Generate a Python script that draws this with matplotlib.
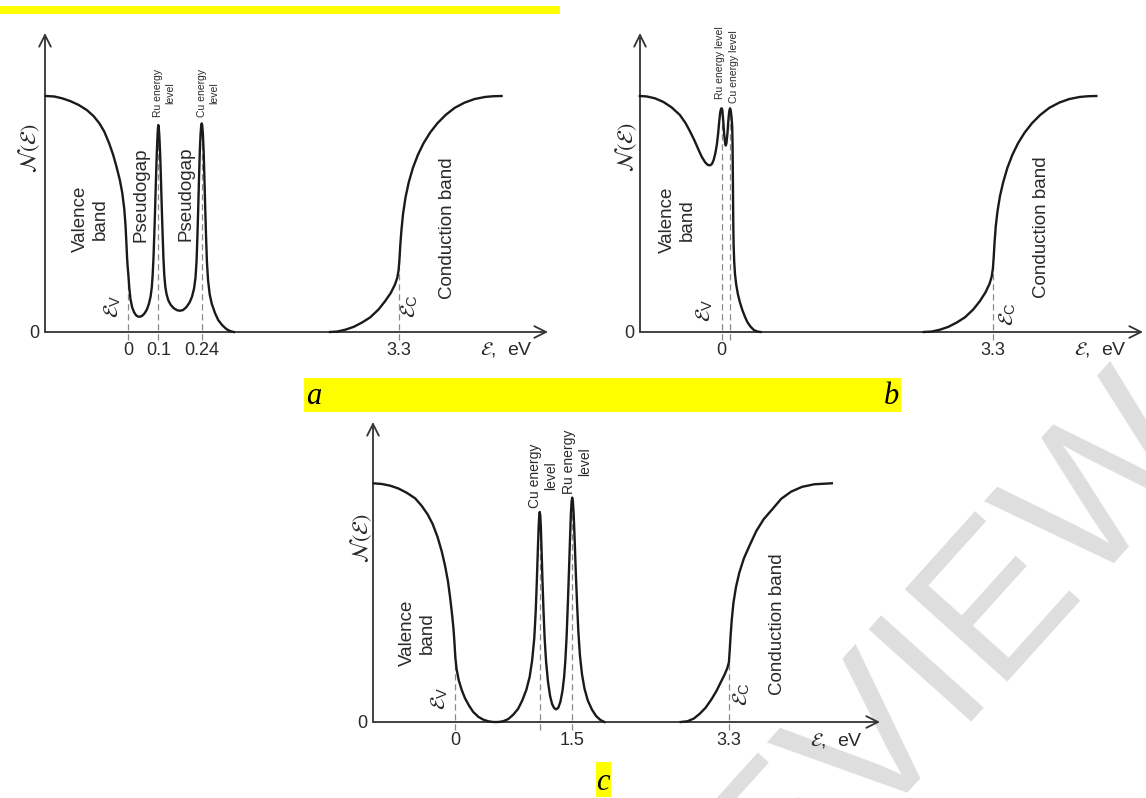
import matplotlib
matplotlib.use('Agg')
import matplotlib.pyplot as plt
from matplotlib.patches import Rectangle

plt.rcParams['font.family'] = ['Liberation Sans', 'DejaVu Sans']
plt.rcParams['mathtext.fontset'] = 'stix'

W, H = 1146, 798

# panel a: density of states, valence band + Ru/Cu levels inside the gap
a_val_x = [-1.0, -0.9, -0.8, -0.7, -0.6, -0.5, -0.42, -0.35, -0.29, -0.23, -0.18, -0.14, -0.10,
           -0.07, -0.045, -0.03, -0.02, -0.012, -0.005, 0.005, 0.015, 0.03, 0.05, 0.075, 0.1,
           0.125, 0.146, 0.17, 0.2, 0.23, 0.255, 0.275, 0.29, 0.30, 0.31, 0.32, 0.33, 0.34,
           0.35, 0.358, 0.364, 0.369, 0.375, 0.382, 0.392, 0.402, 0.412, 0.422, 0.432, 0.442,
           0.455, 0.47, 0.49, 0.52, 0.56, 0.6, 0.633, 0.67, 0.71, 0.75, 0.78, 0.805, 0.822,
           0.835, 0.845, 0.855, 0.865, 0.875, 0.884, 0.892, 0.898, 0.904, 0.912, 0.921, 0.931,
           0.941, 0.951, 0.961, 0.975, 0.995, 1.02, 1.06, 1.1, 1.15, 1.2, 1.25, 1.29]
a_val_y = [1.0, 0.998, 0.99, 0.978, 0.962, 0.94, 0.915, 0.885, 0.85, 0.80, 0.75, 0.70, 0.645,
           0.59, 0.52, 0.45, 0.38, 0.32, 0.28, 0.24, 0.19, 0.14, 0.105, 0.083, 0.07,
           0.065, 0.065, 0.068, 0.078, 0.095, 0.12, 0.15, 0.19, 0.24, 0.31, 0.41, 0.52, 0.64,
           0.75, 0.82, 0.86, 0.877, 0.865, 0.83, 0.75, 0.64, 0.52, 0.41, 0.31, 0.24,
           0.19, 0.16, 0.135, 0.115, 0.10, 0.092, 0.09, 0.093, 0.105, 0.125, 0.15, 0.185, 0.23,
           0.30, 0.40, 0.52, 0.65, 0.77, 0.84, 0.875, 0.884, 0.875, 0.84, 0.77, 0.65,
           0.52, 0.40, 0.30, 0.22, 0.16, 0.12, 0.08, 0.05, 0.028, 0.012, 0.003, 0.0]
a_cond_x = [2.46, 2.55, 2.65, 2.75, 2.85, 2.95, 3.05, 3.13, 3.2, 3.25, 3.28, 3.295, 3.305,
            3.315, 3.33, 3.35, 3.38, 3.42, 3.47, 3.53, 3.6, 3.68, 3.77, 3.87, 3.98, 4.1,
            4.22, 4.35, 4.45, 4.55]
a_cond_y = [0.0, 0.002, 0.01, 0.022, 0.04, 0.062, 0.095, 0.13, 0.165, 0.2, 0.23, 0.26, 0.30,
            0.36, 0.43, 0.50, 0.57, 0.635, 0.695, 0.75, 0.80, 0.845, 0.885, 0.92, 0.95, 0.972,
            0.987, 0.996, 0.999, 1.0]
a_ticks = [0, 0.37, 0.90, 3.3]
a_tick_labels = ['0', '0.1', '0.24', '3.3']
a_levels = [0, 0.369, 0.898, 3.3]
a_level_tops = [0.26, 0.877, 0.884, 0.27]

# panel b: both levels merged into the valence band edge
b_val_x = [-0.985, -0.9, -0.8, -0.7, -0.6, -0.5, -0.43, -0.376, -0.32, -0.27, -0.23, -0.19,
           -0.16, -0.133, -0.11, -0.09, -0.07, -0.05, -0.035, -0.022, -0.01, 0.0, 0.008,
           0.016, 0.026, 0.038, 0.05, 0.058, 0.066, 0.078, 0.09, 0.1, 0.109, 0.118, 0.128,
           0.136, 0.14, 0.143, 0.146, 0.149, 0.153, 0.16, 0.17, 0.185, 0.205, 0.23, 0.26,
           0.29, 0.32, 0.36, 0.4, 0.44, 0.48]
b_val_y = [1.0, 0.998, 0.99, 0.975, 0.952, 0.92, 0.885, 0.85, 0.81, 0.77, 0.74, 0.718,
           0.708, 0.706, 0.712, 0.728, 0.755, 0.795, 0.84, 0.89, 0.93, 0.945, 0.948,
           0.94, 0.90, 0.84, 0.80, 0.79, 0.80, 0.84, 0.90, 0.935, 0.948, 0.94, 0.91,
           0.87, 0.80, 0.70, 0.58, 0.46, 0.37, 0.30, 0.245, 0.20, 0.16, 0.125, 0.092,
           0.065, 0.042, 0.022, 0.008, 0.002, 0.0]
b_cond_x = [2.46, 2.56, 2.66, 2.76, 2.86, 2.96, 3.06, 3.14, 3.21, 3.26, 3.285, 3.3, 3.31,
            3.32, 3.335, 3.355, 3.385, 3.425, 3.475, 3.535, 3.605, 3.685, 3.775, 3.875,
            3.985, 4.105, 4.225, 4.355, 4.455, 4.555]
b_cond_y = [0.0, 0.002, 0.01, 0.022, 0.04, 0.062, 0.095, 0.13, 0.168, 0.205, 0.235, 0.27,
            0.32, 0.38, 0.45, 0.51, 0.575, 0.635, 0.695, 0.75, 0.80, 0.845, 0.885, 0.92,
            0.95, 0.972, 0.987, 0.996, 0.999, 1.0]
b_ticks = [0, 3.3]
b_tick_labels = ['0', '3.3']
b_levels = [0.008, 0.109, 3.3]
b_level_tops = [0.948, 0.948, 0.27]

# panel c: levels deep in the gap
c_val_x = [-0.98, -0.88, -0.78, -0.68, -0.58, -0.48, -0.40, -0.33, -0.27, -0.21, -0.16, -0.12,
           -0.085, -0.06, -0.035, -0.018, -0.006, 0.004, 0.02, 0.045, 0.08, 0.12, 0.17, 0.22,
           0.28, 0.34, 0.40, 0.46, 0.52, 0.58, 0.64, 0.70, 0.76, 0.81, 0.86, 0.9, 0.93, 0.955,
           0.972, 0.985, 0.998, 1.008, 1.015, 1.021, 1.027, 1.034, 1.043, 1.055, 1.067, 1.08,
           1.098, 1.12, 1.145, 1.17, 1.195, 1.22, 1.245, 1.27, 1.295, 1.315, 1.33, 1.345, 1.36,
           1.373, 1.385, 1.396, 1.405, 1.412, 1.42, 1.43, 1.442, 1.455, 1.47, 1.486, 1.505,
           1.53, 1.56, 1.6, 1.65, 1.7, 1.75, 1.8]
c_val_y = [1.0, 0.997, 0.99, 0.978, 0.96, 0.937, 0.905, 0.87, 0.83, 0.775, 0.715, 0.655,
           0.59, 0.525, 0.45, 0.39, 0.33, 0.27, 0.22, 0.175, 0.135, 0.10, 0.068, 0.042,
           0.022, 0.01, 0.003, 0.0, 0.0, 0.003, 0.012, 0.03, 0.055, 0.09, 0.135, 0.19, 0.26,
           0.35, 0.46, 0.58, 0.72, 0.82, 0.865, 0.88, 0.865, 0.82, 0.72, 0.58, 0.46, 0.35,
           0.25, 0.17, 0.11, 0.075, 0.058, 0.053, 0.06, 0.085, 0.13, 0.19, 0.26, 0.36, 0.50,
           0.63, 0.76, 0.87, 0.925, 0.94, 0.925, 0.87, 0.76, 0.63, 0.50, 0.38, 0.28,
           0.20, 0.14, 0.09, 0.052, 0.025, 0.009, 0.0]
c_cond_x = [2.72, 2.8, 2.88, 2.95, 3.02, 3.09, 3.15, 3.2, 3.25, 3.28, 3.3, 3.31, 3.32, 3.335,
            3.355, 3.385, 3.425, 3.48, 3.55, 3.63, 3.72, 3.82, 3.93, 4.05, 4.18, 4.33, 4.54]
c_cond_y = [0.0, 0.003, 0.015, 0.035, 0.06, 0.095, 0.13, 0.165, 0.2, 0.225, 0.25, 0.30, 0.36,
            0.43, 0.50, 0.565, 0.625, 0.685, 0.74, 0.80, 0.85, 0.89, 0.935, 0.965, 0.985,
            0.996, 1.0]
c_ticks = [0, 1.41, 3.3]
c_tick_labels = ['0', '1.5', '3.3']
c_levels = [0, 1.021, 1.412, 3.3]
c_level_tops = [0.29, 0.88, 0.94, 0.25]

INK = '#1a1a1a'
TXT = '#2a2a2a'


def fp(px, py):
    return px / W, 1 - py / H


def make_panel(fig, origin, tip, axis_y, top, x0, xs, ys):
    ax = fig.add_axes([origin / W, 1 - axis_y / H, (tip - origin) / W, (axis_y - top) / H])
    ax.set_xlim((origin - x0) / xs, (tip - x0) / xs)
    ax.set_ylim(0, (axis_y - top) / ys)
    for s in ax.spines.values():
        s.set_visible(False)
    ax.patch.set_alpha(0)
    xmin, xmax = ax.get_xlim()
    ymin, ymax = ax.get_ylim()
    arrow = dict(arrowstyle='->,head_length=0.7,head_width=0.35', color='#333333', lw=1.3,
                 shrinkA=0, shrinkB=0, mutation_scale=12)
    ax.annotate('', xy=(xmax, 0), xytext=(xmin, 0), arrowprops=arrow, annotation_clip=False)
    ax.annotate('', xy=(xmin, ymax), xytext=(xmin, 0), arrowprops=arrow, annotation_clip=False)
    ax.tick_params(length=0, labelsize=13, colors=TXT)
    ax.tick_params(axis='x', pad=7)
    ax.tick_params(axis='y', pad=4)
    return ax


def draw(ax, vx, vy, cx, cy, levels, tops, ticks, labels, ys):
    ax.vlines(levels, -8 / ys, tops, colors='#8a8a8a', linestyles=(0, (5, 3)), lw=0.9,
              clip_on=False, zorder=2)
    ax.plot(vx, vy, color=INK, lw=1.7, clip_on=False, zorder=3, solid_joinstyle='round')
    ax.plot(cx, cy, color=INK, lw=1.7, clip_on=False, zorder=3, solid_joinstyle='round')
    ax.set_xticks(ticks, labels)
    ax.set_yticks([0], ['0'])


def label(fig, px, py, s, size=13.5, rot=90, **kw):
    fig.text(*fp(px, py), s, fontsize=size, rotation=rot, ha='center', va='center',
             color=TXT, **kw)


EV = r'$\mathcal{E}_\mathregular{V}$'
EC = r'$\mathcal{E}_\mathregular{C}$'
NE = r'$\mathcal{N}(\mathcal{E})$'
EAX = r'$\mathcal{E}$,  eV'

fig = plt.figure(figsize=(W / 100, H / 100), dpi=100)

# watermark
fig.text(*fp(860, 750), 'PREVIEW', fontsize=145, rotation=48, color='#dedede',
         ha='center', va='center', rotation_mode='anchor', zorder=-5,
         family=['Liberation Sans Narrow', 'Liberation Sans', 'DejaVu Sans'])

# yellow highlights
for x, y, w, h in [(0, 6, 560, 8), (304, 378, 597, 34), (596, 762, 15, 35)]:
    fig.patches.append(Rectangle(fp(x, y + h), w / W, h / H, transform=fig.transFigure,
                                 facecolor='#ffff00', edgecolor='none', zorder=-4))
fig.text(*fp(306, 404), 'a', fontsize=22, style='italic', family='Liberation Serif',
         ha='left', va='baseline')
fig.text(*fp(899, 404), 'b', fontsize=22, style='italic', family='Liberation Serif',
         ha='right', va='baseline')
fig.text(*fp(603, 790), 'c', fontsize=22, style='italic', family='Liberation Serif',
         ha='center', va='baseline')

# panel a
ax_a = make_panel(fig, 45, 548, 332, 33, 128, 82.1, 236)
draw(ax_a, a_val_x, a_val_y, a_cond_x, a_cond_y, a_levels, a_level_tops, a_ticks,
     a_tick_labels, 236)
label(fig, 29, 148, NE, size=16)
label(fig, 90, 219, 'Valence\nband')
label(fig, 141, 195, 'Pseudogap')
label(fig, 186, 194, 'Pseudogap')
label(fig, 164, 93, 'Ru energy\nlevel', size=7.5)
label(fig, 208, 93, 'Cu energy\nlevel', size=7.5)
label(fig, 448, 228, 'Conduction band')
label(fig, 113, 306, EV, size=15)
label(fig, 410, 306, EC, size=15)
fig.text(*fp(480, 349), EAX, fontsize=14, ha='left', va='center', color=TXT)

# panel b
ax_b = make_panel(fig, 640, 1143, 332, 33, 721, 82.4, 236)
draw(ax_b, b_val_x, b_val_y, b_cond_x, b_cond_y, b_levels, b_level_tops, b_ticks,
     b_tick_labels, 236)
label(fig, 626, 147, NE, size=16)
label(fig, 677, 220, 'Valence\nband')
label(fig, 720, 63, 'Ru energy level', size=7.5)
label(fig, 734, 67, 'Cu energy level', size=7.5)
label(fig, 1042, 227, 'Conduction band')
label(fig, 705, 310, EV, size=15)
label(fig, 1008, 314, EC, size=15)
fig.text(*fp(1074, 349), EAX, fontsize=14, ha='left', va='center', color=TXT)

# panel c
ax_c = make_panel(fig, 373, 880, 722, 422, 455, 83.0, 238.7)
draw(ax_c, c_val_x, c_val_y, c_cond_x, c_cond_y, c_levels, c_level_tops, c_ticks,
     c_tick_labels, 238.7)
label(fig, 361, 538, NE, size=16)
label(fig, 417, 633, 'Valence\nband')
label(fig, 543, 476, 'Cu energy\nlevel', size=10)
label(fig, 577, 462, 'Ru energy\nlevel', size=10)
label(fig, 777, 624, 'Conduction band')
label(fig, 440, 698, EV, size=15)
label(fig, 742, 694, EC, size=15)
fig.text(*fp(810, 740), EAX, fontsize=14, ha='left', va='center', color=TXT)

fig.savefig('out.png', dpi=100)
